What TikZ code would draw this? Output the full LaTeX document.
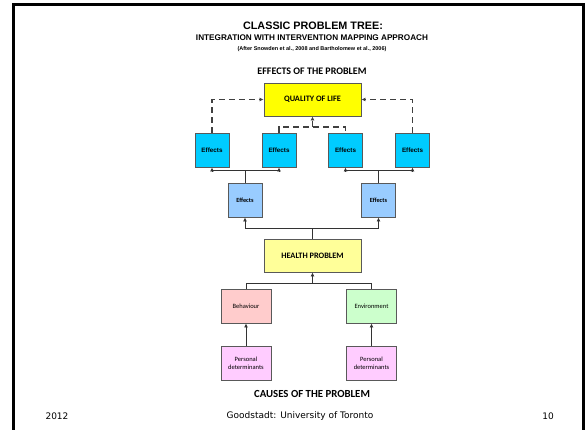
\documentclass[tikz,border=0pt]{standalone}
\usepackage{fontspec}
\setmainfont{Carlito}
\newfontfamily\arialfont{Liberation Sans}
\newfontfamily\verdanafont{DejaVu Sans}
\usetikzlibrary{arrows.meta}
\definecolor{qolyellow}{RGB}{255,255,0}
\definecolor{effcyan}{RGB}{0,204,255}
\definecolor{efflightblue}{RGB}{153,204,255}
\definecolor{hpyellow}{RGB}{255,255,153}
\definecolor{behpink}{RGB}{255,204,204}
\definecolor{envgreen}{RGB}{204,255,204}
\definecolor{detmagenta}{RGB}{255,204,255}

\begin{document}
\begin{tikzpicture}[x=1pt, y=-1pt,
  box/.style={draw=black!65, line width=0.9pt, inner sep=1pt, align=center},
  widebox/.style={box, minimum width=97pt, minimum height=33pt,
    font=\fontsize{8.3}{10}\selectfont\bfseries},
  effbox/.style={box, minimum width=34pt, minimum height=34pt},
  causebox/.style={box, minimum width=50pt, minimum height=34pt,
    font=\fontsize{6.5}{8}\selectfont},
  link/.style={draw=black!80, line width=1pt},
  uparrow/.style={link, -{Latex[length=4pt,width=4pt]}},
  dashlink/.style={draw=black!75, line width=1.1pt, dash pattern=on 6pt off 4pt,
    -{Latex[length=4pt,width=4pt]}}]
  \useasboundingbox (0,0) rectangle (588,430);
  \draw[line width=3pt] (13.5,430) -- (13.5,5) -- (583.5,5) -- (583.5,430);

  % headings
  \node (title) at (313,26) {\arialfont\bfseries\fontsize{10.8}{12}\selectfont CLASSIC PROBLEM TREE:};
  \node (subtitle) at (312,38) {\arialfont\bfseries\fontsize{8.2}{10}\selectfont INTEGRATION WITH INTERVENTION MAPPING APPROACH};
  \node (after) at (312,49) {\arialfont\bfseries\fontsize{5.5}{7}\selectfont (After Snowden et al., 2008 and Bartholomew et al., 2006)};
  \node (effects) at (312,71) {\bfseries\fontsize{10}{12}\selectfont EFFECTS OF THE PROBLEM};
  \node (causes) at (312,394) {\bfseries\fontsize{10.8}{12}\selectfont CAUSES OF THE PROBLEM};

  % boxes
  \node[widebox, fill=qolyellow] (qol) at (312.5,99.5) {QUALITY OF LIFE};
  \node[effbox, fill=effcyan, font=\arialfont\bfseries\fontsize{6.3}{8}\selectfont] (e1) at (212,150) {Effects};
  \node[effbox, fill=effcyan, font=\arialfont\bfseries\fontsize{6.3}{8}\selectfont] (e2) at (279,150) {Effects};
  \node[effbox, fill=effcyan, font=\arialfont\bfseries\fontsize{6.3}{8}\selectfont] (e3) at (345.5,150) {Effects};
  \node[effbox, fill=effcyan, font=\arialfont\bfseries\fontsize{6.3}{8}\selectfont] (e4) at (412.5,150) {Effects};
  \node[effbox, fill=efflightblue, font=\bfseries\fontsize{6.3}{8}\selectfont] (ea) at (245,200) {Effects};
  \node[effbox, fill=efflightblue, font=\bfseries\fontsize{6.3}{8}\selectfont] (eb) at (378.5,200) {Effects};
  \node[widebox, fill=hpyellow] (hp) at (312.5,255.5) {HEALTH PROBLEM};
  \node[causebox, fill=behpink] (beh) at (246,306) {Behaviour};
  \node[causebox, fill=envgreen] (env) at (371.5,306) {Environment};
  \node[causebox, fill=detmagenta] (det1) at (246,363) {Personal\\determinants};
  \node[causebox, fill=detmagenta] (det2) at (371.5,363) {Personal\\determinants};

  % dashed links to quality of life
  \coordinate (qjoin) at (312.5,127);
  \draw[dashlink] (e1.north) |- (qol.west);
  \draw[dashlink] (e4.north) |- (qol.east);
  \draw[dashlink, -] (e2.north) |- (qjoin) -| (e3.north);
  \draw[dashlink] (qjoin) -- (qol.south);

  % solid links
  \coordinate (ljoin) at (245,171);
  \coordinate (rjoin) at (378.5,171);
  \coordinate (mjoin) at (312.5,228);
  \coordinate (cjoin) at (312.5,283);
  \draw[uparrow] (ljoin) -| (e1.south);
  \draw[uparrow] (ljoin) -| (e2.south);
  \draw[link] (ea.north) -- (ljoin);
  \draw[uparrow] (rjoin) -| (e3.south);
  \draw[uparrow] (rjoin) -| (e4.south);
  \draw[link] (eb.north) -- (rjoin);
  \draw[link] (hp.north) -- (mjoin);
  \draw[uparrow] (mjoin) -| (ea.south);
  \draw[uparrow] (mjoin) -| (eb.south);
  \draw[link] (beh.north) |- (cjoin);
  \draw[link] (env.north) |- (cjoin);
  \draw[uparrow] (cjoin) -- (hp.south);
  \draw[uparrow] (det1.north) -- (beh.south);
  \draw[uparrow] (det2.north) -- (env.south);

  % footer
  \node (year) at (57,416) {\verdanafont\fontsize{9}{11}\selectfont 2012};
  \node (author) at (300,416) {\verdanafont\fontsize{9}{11}\selectfont Goodstadt: University of Toronto};
  \node (page) at (548,416) {\verdanafont\fontsize{9}{11}\selectfont 10};
\end{tikzpicture}
\end{document}
